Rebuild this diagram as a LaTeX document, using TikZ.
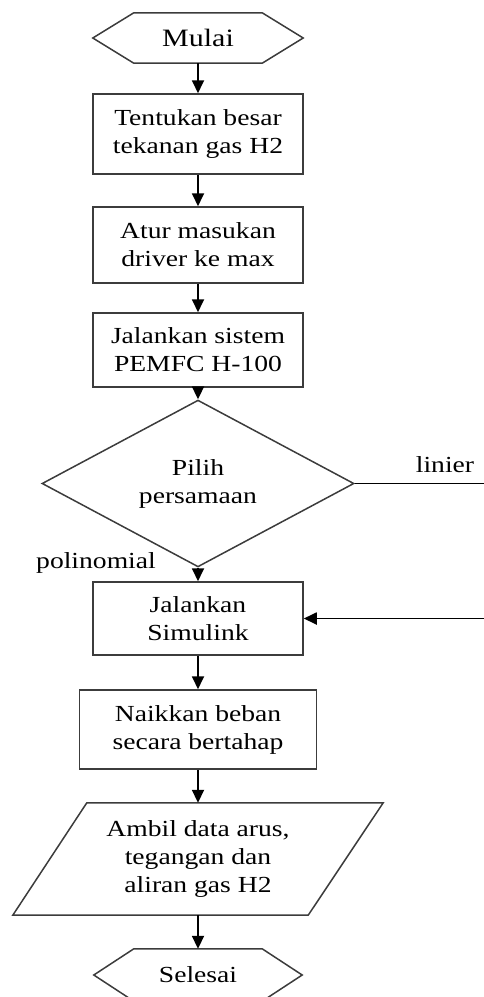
\documentclass[tikz,border=0pt]{standalone}
\usepackage{fontspec}
\setmainfont{Liberation Serif}[FakeStretch=1.2]
\usetikzlibrary{arrows.meta,shapes.geometric}
\definecolor{shapecol}{RGB}{60,60,60}
\newcommand{\fsnorm}{\fontsize{23}{28}\selectfont}
\newcommand{\fsbig}{\fontsize{25}{30}\selectfont}
\tikzset{
  txt/.style={inner sep=0pt, align=center, font=\fsnorm},
  procbox/.style={txt, draw=shapecol, line width=1.5pt, minimum width=210pt},
  outline/.style={draw=shapecol, line width=1.5pt, line join=miter},
  arr/.style={-{Triangle[width=12pt,length=13pt]}, line width=1.8pt, black},
  plain/.style={line width=1.8pt, black},
}
\begin{document}
\begin{tikzpicture}[x=1pt,y=-1pt]
\useasboundingbox (0,0) rectangle (483,997);

% start terminal
\node[txt, font=\fsbig, minimum width=210pt, minimum height=50pt] (start) at (198,38) {Mulai};
\draw[outline] (start.west) -- ([xshift=41pt]start.north west) -- ([xshift=-41pt]start.north east)
  -- (start.east) -- ([xshift=-41pt]start.south east) -- ([xshift=41pt]start.south west) -- cycle;

\node[procbox, minimum height=80pt] (b1) at (198,134) {Tentukan besar\\tekanan gas H2};
\node[procbox, minimum height=76pt] (b2) at (198,245) {Atur masukan\\driver ke max};
\node[procbox, minimum height=74pt] (b3) at (198,350) {Jalankan sistem\\PEMFC H-100};

\node[diamond, txt, draw=shapecol, line width=1.5pt, minimum width=312pt, minimum height=127pt] (d) at (198,483.5) {Pilih\\persamaan};

\node[procbox, minimum height=73pt] (b4) at (198,618.5) {Jalankan\\Simulink};
\node[procbox, minimum width=237pt, minimum height=79pt] (b5) at (198,729.5) {Naikkan beban\\secara bertahap};

% data parallelogram
\node[txt, minimum width=370pt, minimum height=112pt] (p) at (198,859) {Ambil data arus,\\tegangan dan\\aliran gas H2};
\draw[outline] ([xshift=74pt]p.north west) -- (p.north east) -- ([xshift=-75pt]p.south east) -- (p.south west) -- cycle;

% end terminal
\node[txt, minimum width=208pt, minimum height=52pt] (end) at (198,975) {Selesai};
\draw[outline] (end.west) -- ([xshift=40pt]end.north west) -- ([xshift=-40pt]end.north east)
  -- (end.east) -- ([xshift=-40pt]end.south east) -- ([xshift=40pt]end.south west) -- cycle;

% labels
\node[txt] (lin) at (445,465) {linier};
\node[txt] (pol) at (96,563) {polinomial};

% connectors
\draw[arr] (start.south) -- (b1.north);
\draw[arr] (b1.south) -- (b2.north);
\draw[arr] (b2.south) -- (b3.north);
\draw[arr] (b3.south) -- (d.north);
\draw[arr] (d.south) -- (b4.north);
\draw[arr] (b4.south) -- (b5.north);
\draw[arr] (b5.south) -- (p.north);
\draw[arr] (p.south) -- (end.north);

\coordinate (r1) at (486,483.5);
\coordinate (r2) at (486,618.5);
\draw[plain] (d.east) -- (r1);
\draw[arr] (r2) -- (b4.east);
\end{tikzpicture}
\end{document}
